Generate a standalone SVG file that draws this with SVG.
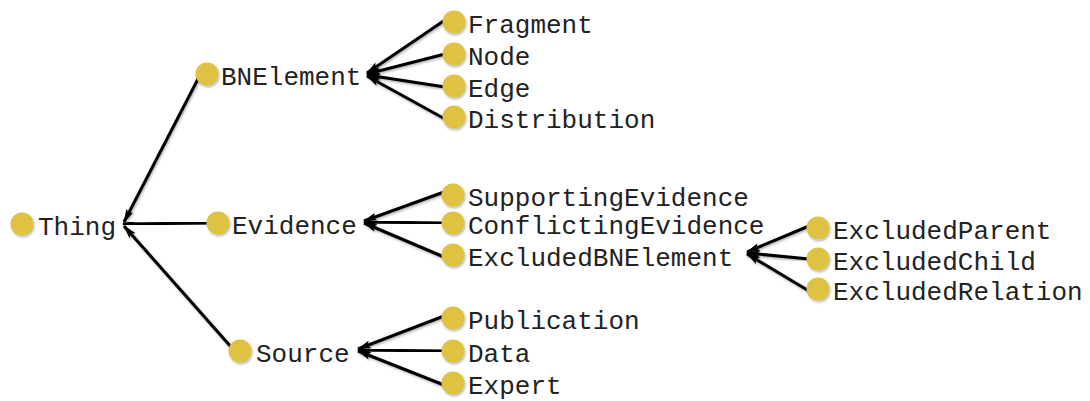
<svg xmlns="http://www.w3.org/2000/svg" width="1090" height="401" viewBox="0 0 1090 401">
<defs>
<marker id="ah" viewBox="0 0 14 8" refX="13" refY="4" markerWidth="14" markerHeight="8" markerUnits="userSpaceOnUse" orient="auto">
<path d="M0,0 L14,4 L0,8 L3,4 Z" fill="#000"/>
</marker>
<filter id="sh" x="-20%" y="-20%" width="140%" height="140%">
<feDropShadow dx="1" dy="1.5" stdDeviation="1.2" flood-color="#000" flood-opacity="0.3"/>
</filter>
</defs>
<style>
.n circle{fill:#DFC243;filter:url(#sh)}
.n text{font-family:"Liberation Mono","Courier New",monospace;font-size:26px;fill:#222}
#connectors line{stroke:#000;stroke-width:3;marker-end:url(#ah);filter:url(#sh)}
</style>
<g id="connectors">
<line x1="199" y1="77" x2="124" y2="222"/>
<line x1="208" y1="223" x2="123" y2="224"/>
<line x1="232" y1="348" x2="124" y2="226"/>
<line x1="445" y1="20" x2="367" y2="73"/>
<line x1="445" y1="54" x2="367" y2="74"/>
<line x1="445" y1="87" x2="367" y2="75"/>
<line x1="445" y1="119" x2="367" y2="76"/>
<line x1="444" y1="192" x2="364" y2="221"/>
<line x1="444" y1="223" x2="364" y2="222"/>
<line x1="444" y1="257" x2="364" y2="223"/>
<line x1="809" y1="226" x2="747" y2="252"/>
<line x1="809" y1="259" x2="747" y2="253"/>
<line x1="809" y1="291" x2="747" y2="254"/>
<line x1="444" y1="316" x2="358" y2="349"/>
<line x1="444" y1="351" x2="358" y2="350"/>
<line x1="444" y1="385" x2="358" y2="351"/>
</g>
<g id="Thing" class="n"><circle cx="22" cy="224" r="11.5"/><text x="38" y="235">Thing</text></g>
<g id="BNElement" class="n"><circle cx="207" cy="74" r="11.5"/><text x="221" y="85">BNElement</text></g>
<g id="Evidence" class="n"><circle cx="218" cy="223" r="11.5"/><text x="232" y="234">Evidence</text></g>
<g id="Source" class="n"><circle cx="240" cy="351" r="11.5"/><text x="256" y="362">Source</text></g>
<g id="Fragment" class="n"><circle cx="454" cy="22" r="11.5"/><text x="468" y="33">Fragment</text></g>
<g id="Node" class="n"><circle cx="454" cy="54" r="11.5"/><text x="468" y="65">Node</text></g>
<g id="Edge" class="n"><circle cx="454" cy="86" r="11.5"/><text x="468" y="97">Edge</text></g>
<g id="Distribution" class="n"><circle cx="454" cy="117" r="11.5"/><text x="468" y="128">Distribution</text></g>
<g id="SupportingEvidence" class="n"><circle cx="453" cy="195" r="11.5"/><text x="468" y="206">SupportingEvidence</text></g>
<g id="ConflictingEvidence" class="n"><circle cx="453" cy="223" r="11.5"/><text x="468" y="234">ConflictingEvidence</text></g>
<g id="ExcludedBNElement" class="n"><circle cx="453" cy="255" r="11.5"/><text x="468" y="266">ExcludedBNElement</text></g>
<g id="ExcludedParent" class="n"><circle cx="818" cy="228" r="11.5"/><text x="833" y="239">ExcludedParent</text></g>
<g id="ExcludedChild" class="n"><circle cx="818" cy="259" r="11.5"/><text x="833" y="270">ExcludedChild</text></g>
<g id="ExcludedRelation" class="n"><circle cx="818" cy="289" r="11.5"/><text x="833" y="300">ExcludedRelation</text></g>
<g id="Publication" class="n"><circle cx="453" cy="318" r="11.5"/><text x="468" y="329">Publication</text></g>
<g id="Data" class="n"><circle cx="453" cy="351" r="11.5"/><text x="468" y="362">Data</text></g>
<g id="Expert" class="n"><circle cx="453" cy="383" r="11.5"/><text x="468" y="394">Expert</text></g>
</svg>
